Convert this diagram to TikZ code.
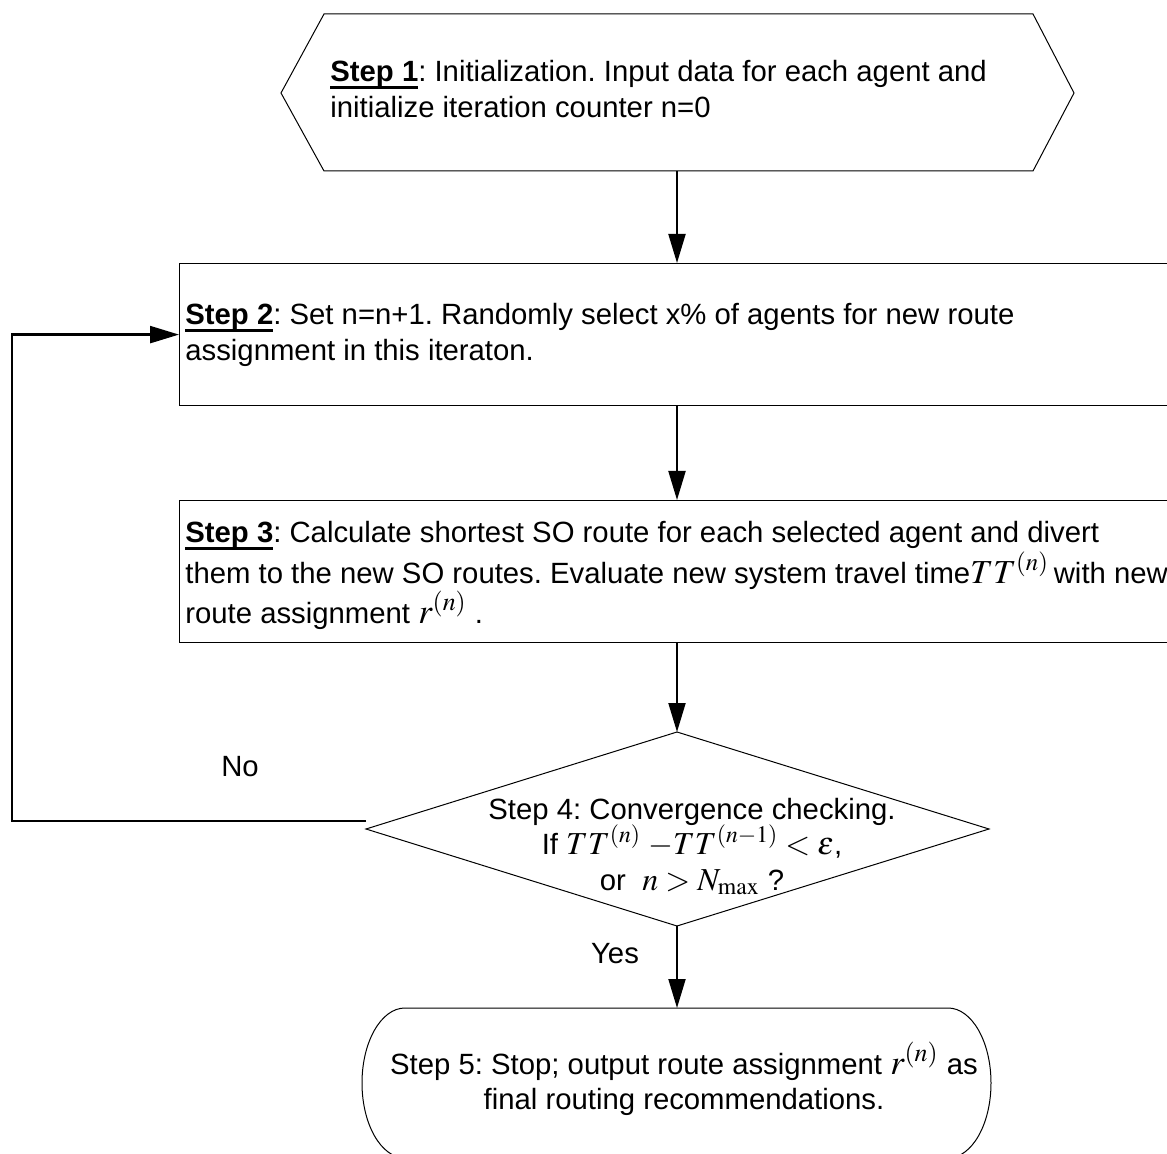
\documentclass[tikz,border=0pt]{standalone}
\usepackage{mathptmx}
\usepackage[no-math]{fontspec}
\setmainfont{Liberation Sans}
\usetikzlibrary{arrows.meta}
\frenchspacing
\newcommand\stepul[1]{\leavevmode\setbox0\hbox{\bfseries #1}\rlap{\rule[-3.6pt]{\wd0}{1.4pt}}\box0}
\newcommand\mth[1]{{\fontsize{17.5pt}{17.75pt}\selectfont$#1$}}
\newcommand\mthm[1]{{\fontsize{16.8pt}{17.75pt}\selectfont$#1$}}
\newcommand\mths[1]{{\fontsize{16pt}{17.75pt}\selectfont$#1$}}
\begin{document}
\begin{tikzpicture}[x=0.5pt,y=-0.5pt,
  shapeline/.style={draw=black,line width=0.6pt},
  flow/.style={draw=black,line width=1pt,-{Triangle[length=14.5pt,width=8.5pt]}},
  txt/.style={inner sep=0pt,font=\fontsize{14.65pt}{17.75pt}\selectfont\frenchspacing},
  stepbox/.style={shapeline,anchor=north west,minimum width=520pt,minimum height=71pt,inner sep=0pt},
]
\useasboundingbox (0,0) rectangle (1167,1154);
\clip (0,0) rectangle (1167,1154);

% Step 1 hexagon
\coordinate (h1) at (281,93);
\coordinate (h2) at (324,14);
\coordinate (h3) at (1033,14);
\coordinate (h4) at (1074,93);
\coordinate (h5) at (1033,171);
\coordinate (h6) at (324,171);
\coordinate (s1b) at (677,171);
\draw[shapeline,line width=0.5pt] (h1) -- (h2) -- (h3) -- (h4) -- (h5) -- (h6) -- cycle;
\node[txt,anchor=base west] (t1) at (330,82) {\parbox[t]{400pt}{\raggedright\frenchspacing\stepul{Step 1}: Initialization. Input data for each agent and\\ initialize iteration counter n=0}};

% Step 2 box
\node[stepbox] (s2) at (179,263) {};
\node[txt,anchor=base west] (t2) at (185,325) {\parbox[t]{500pt}{\raggedright\frenchspacing\stepul{Step 2}: Set n=n+1. Randomly select x\% of agents for new route\\ assignment in this iteraton.}};

% Step 3 box
\node[stepbox] (s3) at (179,500) {};
\node[txt,anchor=base west] (t3) at (185,543) {\parbox[t]{560pt}{\raggedright\frenchspacing\stepul{Step 3}: Calculate shortest SO route for each selected agent and divert\\ them to the new SO routes. Evaluate new system travel time\mthm{TT^{(n)}}\,with new\\ route assignment \mth{r^{(n)}}\ .}};

% Step 4 diamond
\coordinate (dt) at (677,732);
\coordinate (dr) at (989,829);
\coordinate (db) at (677,926);
\coordinate (dl) at (366,829);
\draw[shapeline,line width=0.5pt] (dt) -- (dr) -- (db) -- (dl) -- cycle;
\node[txt,anchor=base] (t4) at (692,819) {\parbox[t]{320pt}{\centering\frenchspacing Step 4: Convergence checking.\\ If \mths{TT^{(n)}\;{-}TT^{(n-1)} < \varepsilon},\\ or \ \mths{n > N_{\max}}\ ?}};

% Step 5 terminator
\coordinate (s5t) at (677,1008);
\draw[shapeline,line width=0.5pt] (405,1008) -- (948,1008)
  arc[start angle=90,end angle=-90,x radius=21.5pt,y radius=37.5pt]
  -- (405,1158)
  arc[start angle=270,end angle=90,x radius=21.5pt,y radius=37.5pt];
\node[txt,anchor=base] (t5) at (684,1074) {\parbox[t]{330pt}{\centering\frenchspacing Step 5: Stop; output route assignment \mth{r^{(n)}} as\\ final routing recommendations.}};

% labels
\node[txt] (no) at (240,767) {No};
\node[txt] (yes) at (615,954) {Yes};

% connectors
\coordinate (lc) at (12,821);
\draw[flow] (s1b) -- (s1b |- s2.north);
\draw[flow] (s1b |- s2.south) -- (s1b |- s3.north);
\draw[flow] (s1b |- s3.south) -- (dt);
\draw[flow] (db) -- (s5t);
\draw[flow,line width=1.2pt] ([yshift=4pt]dl) -- (lc) |- (s2.west);
\end{tikzpicture}
\end{document}
